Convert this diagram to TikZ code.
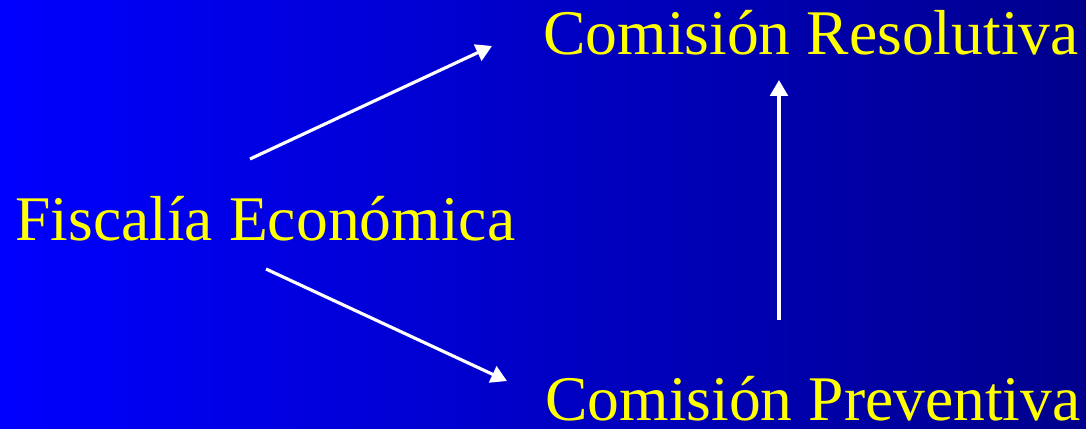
\documentclass[tikz,border=0pt]{standalone}
\usepackage{fontspec}
\setmainfont{Liberation Serif}
\usepackage{xcolor}
\usetikzlibrary{arrows.meta}

\definecolor{fondoizq}{RGB}{0,0,255}
\definecolor{fondoder}{RGB}{0,0,140}
\definecolor{letra}{RGB}{255,255,0}

\begin{document}
\begin{tikzpicture}[x=0.02cm,y=-0.02cm,>={Triangle[width=10pt,length=9pt]},
texto/.style={text=letra,inner sep=0pt,anchor=base west,font=\fontsize{36.2}{40}\selectfont},
flecha/.style={->,white,line width=1.8pt}]
\shade[left color=fondoizq,right color=fondoder](0,0)rectangle(1086,429);
\useasboundingbox (0,0) rectangle (1086,429);
\node[texto] (fiscalia) at (15,240) {Fiscalía Económica};
\node[texto] (resolutiva) at (543,55) {Comisión Resolutiva};
\node[texto] (preventiva) at (545,420) {Comisión Preventiva};
\coordinate (f1) at (250,159);
\coordinate (f2) at (266,269);
\coordinate (r1) at (492,46);
\coordinate (r2) at (779,80);
\coordinate (p1) at (507,381);
\coordinate (p2) at (779,320);
\draw[flecha](f1)--(r1);
\draw[flecha](f2)--(p1);
\draw[flecha](p2)--(r2);
\end{tikzpicture}
\end{document}
